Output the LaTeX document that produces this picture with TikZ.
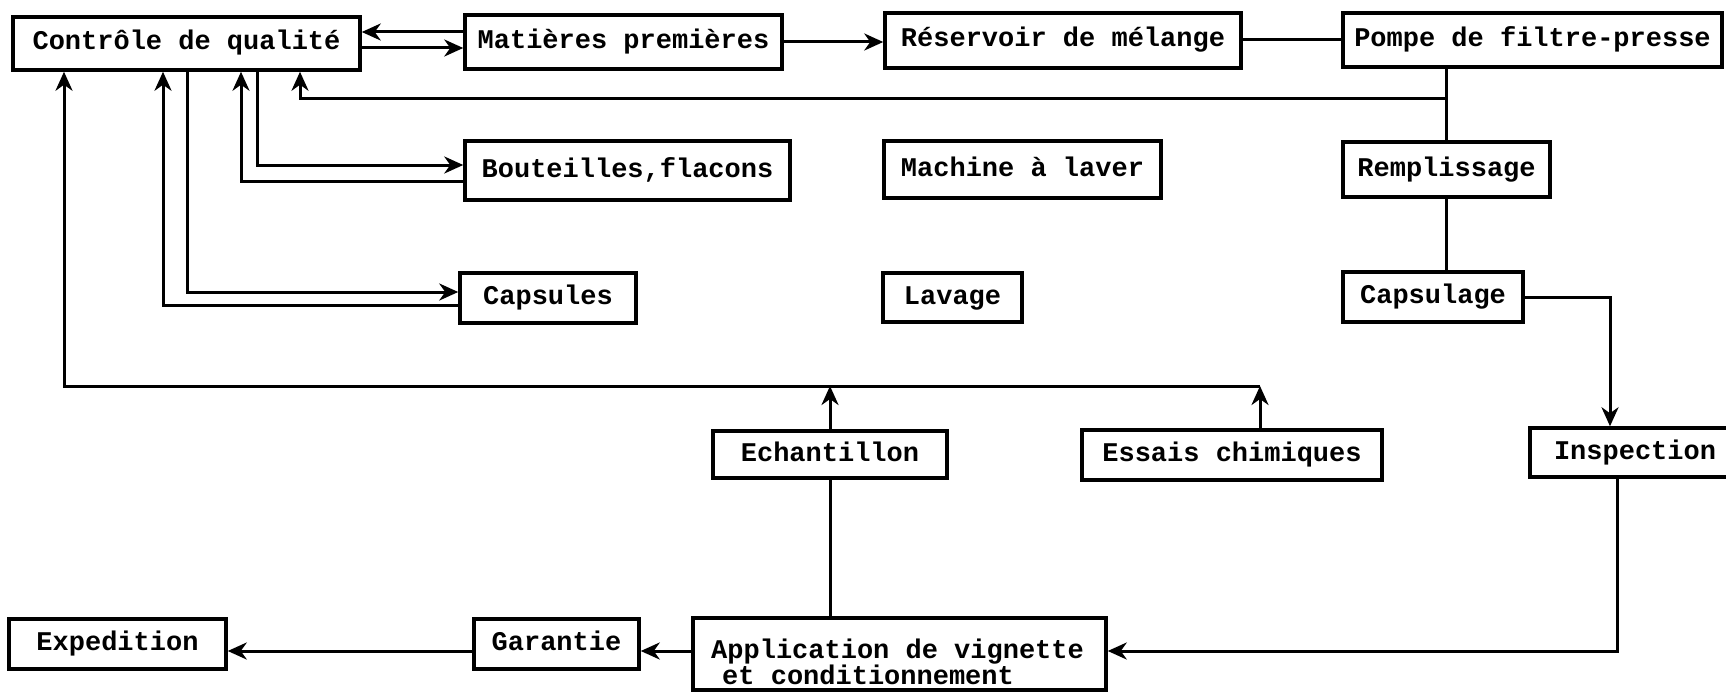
\documentclass[tikz,border=0pt]{standalone}
\usepackage{fontspec}
\setmonofont{Liberation Mono}
\usetikzlibrary{arrows.meta}
\begin{document}
\begin{tikzpicture}[x=1pt,y=-1pt,
  box/.style={draw, line width=3.5pt, rectangle, inner sep=0pt,
    text height=19pt, text depth=6pt,
    font=\ttfamily\bfseries\fontsize{27}{26}\selectfont},
  lbl/.style={inner sep=0pt, font=\ttfamily\bfseries\fontsize{27}{26}\selectfont},
  conn/.style={line width=3pt},
  arr/.style={conn, -{Stealth[length=19pt,width=17pt,inset=6pt]}}]
\useasboundingbox (0,0) rectangle (1726,693);
% boxes
\node[box, minimum width=347pt, minimum height=53pt] (ctrl) at (186.5,43.5) {Contrôle de qualité};
\node[box, minimum width=317pt, minimum height=54pt] (mat) at (623.5,42) {Matières premières};
\node[box, minimum width=356pt, minimum height=55pt] (res) at (1063,40.5) {Réservoir de mélange};
\node[box, minimum width=379pt, minimum height=54pt] (pomp) at (1532.5,40) {Pompe de filtre-presse};
\node[box, minimum width=325pt, minimum height=59pt] (bout) at (627.5,170.5) {Bouteilles,flacons};
\node[box, minimum width=277pt, minimum height=57pt] (mach) at (1022.5,169.5) {Machine à laver};
\node[box, minimum width=207pt, minimum height=55pt] (rempl) at (1446.5,169.5) {Remplissage};
\node[box, minimum width=176pt, minimum height=50pt] (caps) at (548,298) {Capsules};
\node[box, minimum width=139pt, minimum height=49pt] (lav) at (952.5,297.5) {Lavage};
\node[box, minimum width=180pt, minimum height=50pt] (capl) at (1433,297) {Capsulage};
\node[box, minimum width=234pt, minimum height=47pt] (ech) at (830,454.5) {Echantillon};
\node[box, minimum width=300pt, minimum height=50pt] (ess) at (1232,455) {Essais chimiques};
\node[box, minimum width=210pt, minimum height=49pt] (insp) at (1635,452.5) {Inspection};
\node[box, minimum width=217pt, minimum height=50pt] (exp) at (117.5,644) {Expedition};
\node[box, minimum width=165pt, minimum height=50pt] (gar) at (556.5,644) {Garantie};
\node[box, minimum width=413pt, minimum height=72pt] (app) at (899.5,654) {};
\node[lbl, anchor=west, align=left] (appt) at (711,662) {Application de vignette\\\hspace*{11pt}et conditionnement};
% top row
\draw[arr] (mat.west |- 0,32) -- (ctrl.east |- 0,32);
\draw[arr] (ctrl.east |- 0,48) -- (mat.west |- 0,48);
\draw[arr] (mat.east) -- (mat.east -| res.west);
\draw[conn] (res.east |- 0,40) -- (pomp.west |- 0,40);
% right column
\draw[conn] (rempl.north |- pomp.south) -- (rempl.north);
\coordinate (j1) at (rempl.north |- 0,98);
\draw[arr] (j1) -- (300,98) -- (300,0 |- ctrl.south);
\draw[conn] (rempl.south) -- (rempl.south |- capl.north);
\draw[arr] (capl.east) -| (1610,0 |- insp.north);
\draw[arr] (1617,0 |- insp.south) |- (app.east |- 0,651);
% bottom row
\draw[arr] (app.west |- 0,651) -- (gar.east |- 0,651);
\draw[arr] (gar.west |- 0,651) -- (exp.east |- 0,651);
\draw[conn] (ech.south) -- (ech.south |- app.north);
% sample and chemical tests back to quality control
\coordinate (j2) at (1260,386);
\draw[arr] (ech.north) -- (ech.north |- j2);
\draw[arr] (ess.north -| j2) -- (j2);
\draw[arr] (j2) -- (64,386) -- (64,0 |- ctrl.south);
% bottles
\draw[arr] (257,0 |- ctrl.south) |- (bout.west |- 0,165);
\draw[arr] (bout.west |- 0,181) -| (241,0 |- ctrl.south);
% capsules
\draw[arr] (187,0 |- ctrl.south) |- (caps.west |- 0,292);
\draw[arr] (caps.west |- 0,305) -| (163,0 |- ctrl.south);
\end{tikzpicture}
\end{document}
